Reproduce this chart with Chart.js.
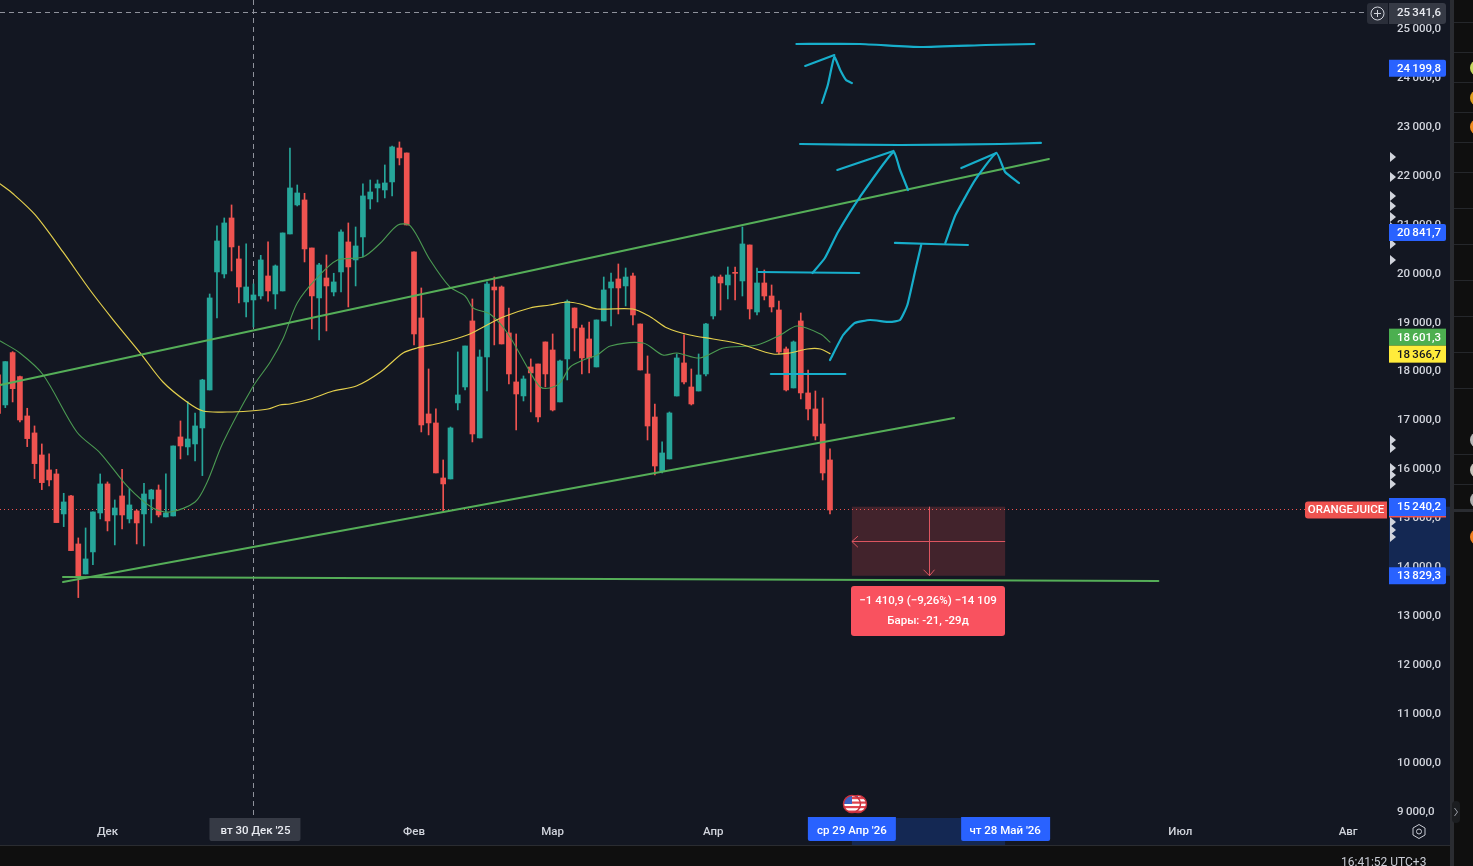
<!DOCTYPE html>
<html lang="ru"><head><meta charset="utf-8">
<style>html,body{margin:0;padding:0;background:#0f0f0f;overflow:hidden}canvas{display:block}</style>
<script src="https://cdn.jsdelivr.net/npm/chart.js@4"></script>
</head><body><canvas id="c" width="1473" height="866"></canvas>
<script>
// ---- candle values (bar number = array position)
const opens=[17932,17319,18388,17898,17094,16747,16297,15991,15909,15092,15460,14479,13866,14316,15112,15705,15071,15460,14990,15153,15092,15398,15582,15031,15051,16665,16461,16522,16849,17625,20036,19995,21139,20302,19423,19464,19546,19954,19586,19648,20812,21405,21507,20526,19505,19913,19627,20036,20649,20281,20751,21527,21752,21711,21875,22569,22467,20445,19096,17135,16951,15827,15807,17360,17686,19035,16645,18299,19729,19729,18790,17789,17503,18095,18156,18606,18442,17380,18258,19300,18892,18667,18095,19035,19709,19893,19750,19954,18973,17952,17073,15970,16215,17502,18177,17686,17604,17952,19137,19933,19770,20015,19852,20587,19218,19811,19545,19259,18463,17666,19035,17564,17237,16930,16195];
const highs=[17966,18204,18408,17911,17251,16890,16522,16318,16004,15514,15473,14602,14806,15133,15909,15746,15378,16004,15609,15174,15718,15596,15684,15909,16481,16992,17387,17155,17843,19586,20976,21139,21405,20567,20608,19791,20376,20649,20179,20833,22569,21813,21643,20526,20213,20383,20009,20894,21037,20955,21834,21915,21915,22222,22610,22692,22467,20445,19709,18054,17237,16195,16869,18402,18524,19484,18442,19832,19934,19750,19300,18769,17911,18259,18156,18606,18769,18238,19464,19300,18953,19014,19055,19933,20015,20199,20117,20015,18973,18320,17339,16563,17175,18360,18749,18054,18360,18987,19954,19974,20138,20138,20955,20587,20117,20076,19770,19443,18503,18626,19198,18033,17604,17461,16420];
const lows=[17148,17264,17380,16971,16467,15814,15589,15664,14915,14833,14343,13383,13866,14057,14990,14745,14459,14785,14908,14479,14438,14908,15031,15031,15051,16216,16297,16175,15875,17625,19096,19913,20056,19403,19117,18912,19484,19437,19280,19648,20812,21384,20240,18871,18647,18831,19546,19627,19321,19750,20342,21323,21466,21548,21589,22222,20996,18545,16767,16706,15930,15153,15807,17217,17625,16563,16645,17605,18545,18565,17748,16808,17400,17176,16971,17686,17196,17380,17829,18422,17952,17972,18095,19035,18932,19178,19341,18953,18033,16603,15888,15929,16215,17502,17747,17318,17604,17911,19075,19259,19484,19464,19545,19075,19157,19464,19218,18360,17604,17666,17441,17012,16603,15786,15092];
const closes=[17148,18204,17652,17012,16631,16120,15732,15787,14915,15337,14343,13812,14173,15133,15705,14949,15214,15071,15276,14908,15500,15582,15071,15112,16481,16481,16624,16890,17829,19505,20669,21037,20547,19729,19729,19566,20281,19648,20159,20833,21752,21650,20506,19546,20179,19750,19832,20853,20138,20567,21589,21670,21834,21854,22590,22365,20996,18769,16910,16951,15930,15705,16849,17523,18524,16726,18299,19791,19668,18565,17952,17543,17850,17973,17074,17952,17216,18217,19436,18892,18279,18279,19055,19668,19831,19709,19933,19157,18033,16889,16072,16338,17155,18279,17788,17339,17931,18973,19933,19811,19974,20008,20608,19280,19811,19545,19321,18401,17625,18606,17564,17237,16685,15929,15173];

// ---- moving averages: bar numbers and prices
const yellowBars=[0.3,2.1,5.1,8.9,12.6,15.8,19.5,22.6,25.9,28.1,31.4,34.5,37,38.6,40,42.8,45.9,49.1,52.4,55.5,57.4,60.6,64.3,66.5,69.2,72.9,75.6,78,79.8,82.1,87,89.4,91.7,94.8,98,101.7,106.2,108.5,110.9,112.7,114];
const yellowPrices=[21833,21628,21200,20444,19667,19054,18380,17788,17379,17195,17175,17195,17236,17318,17338,17440,17604,17706,17992,18380,18482,18585,18748,18911,19116,19300,19361,19422,19381,19279,19279,19116,18891,18748,18666,18564,18360,18380,18462,18462,18366.7];
const greenBars=[0.3,3,6.2,10.8,14,17.8,21.2,23.6,27,28.6,30.8,34.9,37.3,39.1,41,43.7,46.5,50,52.4,54.8,56.5,59.2,61.9,64,65.1,67.4,69.8,72.9,74.3,75.6,77,78.4,80.2,82.1,83.9,88.4,91.1,93,96.2,99.4,104,107.2,109.5,112.7,114];
const greenPrices=[18625,18380,17931,16766,16337,15643,15214,15132,15336,15724,16541,17686,18196,18687,19402,19913,20280,20341,20627,20995,20975,20280,19729,19545,19300,19177,18789,17992,17686,17665,17768,18094,18237,18339,18523,18584,18339,18380,18278,18482,18544,18748,18932,18768,18601.3];

// ---- drawn trend lines: [bar, price]
const upperChannel=[[0.3,17726],[144,22344]];
const lowerChannel=[[8.9,13702],[131,17052]];
const floorLine=[[8.9,13804],[159,13722]];

// ---- hand-drawn cyan strokes: [bar, price]
const cyanStrokes=[
 [[109.4,24693],[118.1,24693],[126.4,24632],[135.3,24673],[142,24693]],
 [[112.9,23488],[113.7,23855],[114.6,24427],[115.4,24162],[116.2,23958],[117,23896]],
 [[110.6,24244],[114.6,24468]],
 [[109.9,22650],[123.6,22630],[137.3,22650],[142.9,22671]],
 [[111.6,20015],[113.3,20321],[115.1,20852],[118.1,21567],[122.7,22487],[123.6,22119],[124.7,21710]],
 [[115,22119],[122.7,22507]],
 [[114,18237],[115.8,18748],[117.4,18993],[119.5,19054],[122.2,19014],[123.6,19054],[124.6,19361],[125.7,20076],[126.5,20587]],
 [[122.9,20628],[132.9,20587]],
 [[129.8,20628],[131.2,21199],[133.9,21915],[136.8,22466],[138,22078],[139.9,21853]],
 [[132,22160],[136.8,22466]],
 [[104.2,20035],[118,20015]],
 [[105.9,17951],[116.1,17951]]
];

// ---- axes
const priceTicks=[9000,10000,11000,12000,13000,14000,15000,16000,17000,18000,19000,20000,21000,22000,23000,24000,25000];
const timeTickBars=[15,57,76,98,162,185];
const timeTickLabels=['Дек','Фев','Мар','Апр','Июл','Авг'];

// ---- overlays
const crosshairBar=35, crosshairPrice=25341.6, crosshairDate="вт 30 Дек '25";
const rangeBars=[117,138], rangeDates=["ср 29 Апр '26","чт 28 Май '26"];
const rangePrices=[15240.2,13829.3];
const alertPrices=[24199.8,20841.7];
const maLast={green:18601.3,yellow:18366.7};
const symbolName='ORANGEJUICE';
const measureText=['−1 410,9 (−9,26%) −14 109','Бары: -21, -29д'];
const clockText='16:41:52 UTC+3';
const markerPrices=[22385,21976,21588,21383,21159,20955,20607,20280,16603,16440,16031,15888,15704,14928,14764,14621];

const fmtPrice=v=>{const s=v.toFixed(1).replace('.',',');const [a,b]=s.split(',');return a.slice(0,-3)+'\u2009'+a.slice(-3)+','+b;};
const UP='#26a69a',DOWN='#ef5350',BG='#131722',FONT='Roboto, "Liberation Sans", sans-serif',TXT='#d1d4dc',FS=11.5;

const barsIdx=opens.map((_,i)=>i);
const candleColors=barsIdx.map(i=>closes[i]>=opens[i]?UP:DOWN);
const wicks=barsIdx.map(i=>({x:i,y:[lows[i],highs[i]]}));
const bodies=barsIdx.map(i=>({x:i,y:[opens[i],closes[i]]}));
const pts=a=>a.map(p=>({x:p[0],y:p[1]}));
const zip=(xs,ys)=>xs.map((x,i)=>({x,y:ys[i]}));
const lineDs=(data,color,width,tension,order)=>({type:'line',data,borderColor:color,borderWidth:width,tension,order,pointRadius:0,pointHoverRadius:0,fill:false,borderCapStyle:'round',borderJoinStyle:'round'});

const overlay={id:'overlay',
 beforeDraw(ch){const c=ch.ctx;c.save();c.fillStyle=BG;c.fillRect(0,0,1473,866);
   const x=ch.scales.x,y=ch.scales.y,a=x.getPixelForValue(rangeBars[0]),b=x.getPixelForValue(rangeBars[1]),
       t=y.getPixelForValue(rangePrices[0]),u=y.getPixelForValue(rangePrices[1]);
   c.fillStyle='#142853';c.fillRect(ch.chartArea.right,t,61,u-t);c.fillRect(a,ch.chartArea.bottom,b-a,27);
   c.restore();},
 beforeDatasetsDraw(ch){const c=ch.ctx,x=ch.scales.x,y=ch.scales.y;c.save();
   const a=x.getPixelForValue(rangeBars[0]),b=x.getPixelForValue(rangeBars[1]),t=y.getPixelForValue(rangePrices[0]),u=y.getPixelForValue(rangePrices[1]),mx=(a+b)/2,my=(t+u)/2;
   c.fillStyle='rgba(239,83,80,.22)';c.fillRect(a,t,b-a,u-t);
   c.strokeStyle='#dc5560';c.lineWidth=1;c.beginPath();
   c.moveTo(a,Math.round(my)+.5);c.lineTo(b,Math.round(my)+.5);
   c.moveTo(a+6,my-5);c.lineTo(a,Math.round(my)+.5);c.lineTo(a+6,my+6);
   c.moveTo(Math.round(mx)+.5,t);c.lineTo(Math.round(mx)+.5,u);
   c.moveTo(mx-5,u-6);c.lineTo(Math.round(mx)+.5,u);c.lineTo(mx+6,u-6);c.stroke();
   // crosshair
   c.strokeStyle='#8f929c';c.setLineDash([5,4]);c.beginPath();
   const cx=Math.round(x.getPixelForValue(crosshairBar))+.5,cy=Math.round(y.getPixelForValue(crosshairPrice))+.5;
   c.moveTo(cx,0);c.lineTo(cx,818);c.moveTo(0,cy);c.lineTo(1367,cy);c.stroke();
   // last price line
   const ly=Math.round(y.getPixelForValue(closes[closes.length-1]))-.5;
   c.strokeStyle='#ef5350';c.setLineDash([1,3]);c.beginPath();c.moveTo(0,ly);c.lineTo(1305,ly);c.stroke();
   c.restore();},
 afterDraw(ch){const c=ch.ctx,x=ch.scales.x,y=ch.scales.y;c.save();
   c.textBaseline='middle';
   const rr=(X,Y,W,H,R,col)=>{c.fillStyle=col;c.beginPath();c.roundRect(X,Y,W,H,R);c.fill();};
   const label=(txt,cx,cy,col,font)=>{c.font=font||('500 '+FS+'px '+FONT);c.fillStyle=col;c.textAlign='center';c.fillText(txt,cx,cy+.5);};
   // axis side markers
   c.fillStyle='#d1d4dc';
   markerPrices.forEach(p=>{const m=y.getPixelForValue(p);c.beginPath();c.moveTo(1390,m-5);c.lineTo(1396,m);c.lineTo(1390,m+5);c.fill();});
   // crosshair price + plus
   const cy=y.getPixelForValue(crosshairPrice);
   rr(1367,3,21,21,[3,0,0,3],'#2a2e39');rr(1389,3,57,21,[0,3,3,0],'#363a45');
   c.strokeStyle='#d1d4dc';c.lineWidth=1;c.beginPath();c.arc(1377.5,13.5,6.5,0,7);c.moveTo(1374,13.5);c.lineTo(1381,13.5);c.moveTo(1377.5,10);c.lineTo(1377.5,17);c.stroke();
   label(fmtPrice(crosshairPrice),1419,cy,'#e8eaf0');
   // alert labels
   alertPrices.forEach(p=>{const m=y.getPixelForValue(p);rr(1389,m-8.5,57,17,[0,2,2,0],'#2962ff');label(fmtPrice(p),1419,m,'#fff');});
   // MA last values
   const ymY=y.getPixelForValue(maLast.yellow);
   c.fillStyle='#4caf50';c.fillRect(1389,ymY-25,57,17);label(fmtPrice(maLast.green),1419,ymY-16.5,'#fff');
   c.fillStyle='#ffeb3b';c.fillRect(1389,ymY-8,57,17);label(fmtPrice(maLast.yellow),1419,ymY+.5,'#131722');
   // symbol tag and range labels
   const ly=y.getPixelForValue(closes[closes.length-1]);
   rr(1305,ly-8.5,82,17,[3,0,0,3],'#ef5350');label(symbolName,1346,ly,'#fff');
   rr(1389,498,57,19,[0,2,2,0],'#2962ff');c.fillStyle='#ef5350';c.fillRect(1389,516,57,1.5);
   label(fmtPrice(rangePrices[0]),1419,506.7,'#fff');
   const um=y.getPixelForValue(rangePrices[1]);rr(1389,um-8.5,57,17,[0,2,2,0],'#2962ff');label(fmtPrice(rangePrices[1]),1419,um,'#fff');
   // time axis pills
   const cxp=x.getPixelForValue(crosshairBar);
   rr(cxp-44,818,91,23,[0,0,2,2],'#363a45');label(crosshairDate,cxp+2,830.5,'#e8eaf0');
   const a=x.getPixelForValue(rangeBars[0]),b=x.getPixelForValue(rangeBars[1]);
   rr(a-44,817,88,24,[0,0,2,2],'#2962ff');label(rangeDates[0],a,830.5,'#fff');
   rr(b-44,817,89,24,[0,0,2,2],'#2962ff');label(rangeDates[1],b,830.5,'#fff');
   // measure tooltip
   rr(851,586,154,50,3,'#f9525f');
   label(measureText[0],928,601,'#fff');label(measureText[1],928,621,'#fff');
   // event flags
   [858,852].forEach(fx=>{c.beginPath();c.arc(fx,804,8.5,0,7);c.fillStyle='#fff';c.fill();
     c.save();c.clip();c.fillStyle='#e0444e';for(let i=0;i<4;i++)c.fillRect(fx-9,797+i*4.5,18,2.2);c.fillStyle='#3b62c4';c.fillRect(fx-9,796,9,8);c.restore();
     c.strokeStyle='#c9303c';c.lineWidth=1.5;c.beginPath();c.arc(fx,804,8.5,0,7);c.stroke();});
   // settings hexagon
   c.strokeStyle='#c8cbd3';c.lineWidth=1;c.beginPath();
   [[1419,824.5],[1425,828],[1425,835],[1419,838.5],[1413,835],[1413,828]].forEach((p,i)=>i?c.lineTo(p[0],p[1]):c.moveTo(p[0],p[1]));c.closePath();c.moveTo(1421.5,831.5);c.arc(1419,831.5,2.5,0,7);c.stroke();
   // frame: bottom strip, right toolbar
   c.fillStyle='#0f0f0f';c.fillRect(0,846,1473,20);c.fillRect(1454,0,19,866);
   c.fillStyle='#2a2c31';c.fillRect(0,845,1450,1);c.fillRect(1450,0,4,866);
   c.fillStyle='#25272b';
   [22,52,82,112,142,172,208,244,280,316,352,388,454,484].forEach(v=>c.fillRect(1454,v,19,1));
   c.fillStyle='#2a2c31';c.fillRect(1454,509,19,3);
   [[68,'#c6d860'],[98,'#e0a020'],[127,'#f08c20'],[440,'#b8b8b8'],[470,'#c8c4bc'],[500,'#b0b0b0'],[537,'#f08020']].forEach(d=>{c.fillStyle=d[1];c.beginPath();c.arc(1478,d[0],8,0,7);c.fill();});
   rr(1452,801,8,22,4,'#1b1d20');c.strokeStyle='#9a9da6';c.beginPath();c.moveTo(1454.5,808);c.lineTo(1457.5,812);c.lineTo(1454.5,816);c.stroke();
   c.font='12px '+FONT;c.fillStyle='#c8cbd3';c.textAlign='left';c.fillText(clockText,1341,863);
   c.restore();}
};

const datasets=[
 {type:'bar',data:wicks,backgroundColor:candleColors,barThickness:1,grouped:false,order:9,borderWidth:0},
 {type:'bar',data:bodies,backgroundColor:candleColors,barThickness:5,grouped:false,order:8,borderWidth:0,minBarLength:1},
 lineDs(zip(yellowBars,yellowPrices),'#e3cf4d',1.2,.3,5),
 lineDs(zip(greenBars,greenPrices),'#4b9a52',1.1,.3,5),
 lineDs(pts(upperChannel),'#55ae58',2,0,3),
 lineDs(pts(lowerChannel),'#55ae58',2,0,3),
 lineDs(pts(floorLine),'#55ae58',2,0,3),
 ...cyanStrokes.map(s=>lineDs(pts(s),'#17aecb',2.2,.15,2))
];

new Chart(document.getElementById('c'),{
 type:'bar',
 data:{datasets},
 plugins:[overlay],
 options:{
  responsive:false,animation:false,events:[],
  layout:{padding:0},
  plugins:{legend:{display:false},tooltip:{enabled:false},title:{display:false}},
  scales:{
   x:{type:'linear',min:0.27,max:190.6,offset:false,position:'bottom',
      grid:{display:false,drawTicks:false},border:{display:false},
      afterBuildTicks(s){s.ticks=timeTickBars.map(v=>({value:v}));},
      afterFit(s){s.height=48;s.paddingLeft=0;s.paddingRight=0;},
      ticks:{autoSkip:false,maxRotation:0,padding:7,color:TXT,font:{family:FONT,size:FS,weight:'500'},
             callback:v=>timeTickLabels[timeTickBars.indexOf(v)]}},
   y:{type:'linear',position:'right',min:8880,max:25592,
      grid:{display:false,drawTicks:false},border:{display:false},
      afterBuildTicks(s){s.ticks=priceTicks.map(v=>({value:v}));},
      afterFit(s){s.width=84;s.paddingTop=0;s.paddingBottom=0;},
      ticks:{autoSkip:false,padding:8,color:TXT,font:{family:FONT,size:FS,weight:'500'},
             callback:v=>fmtPrice(v)}}
  }
 }
});
</script></body></html>
